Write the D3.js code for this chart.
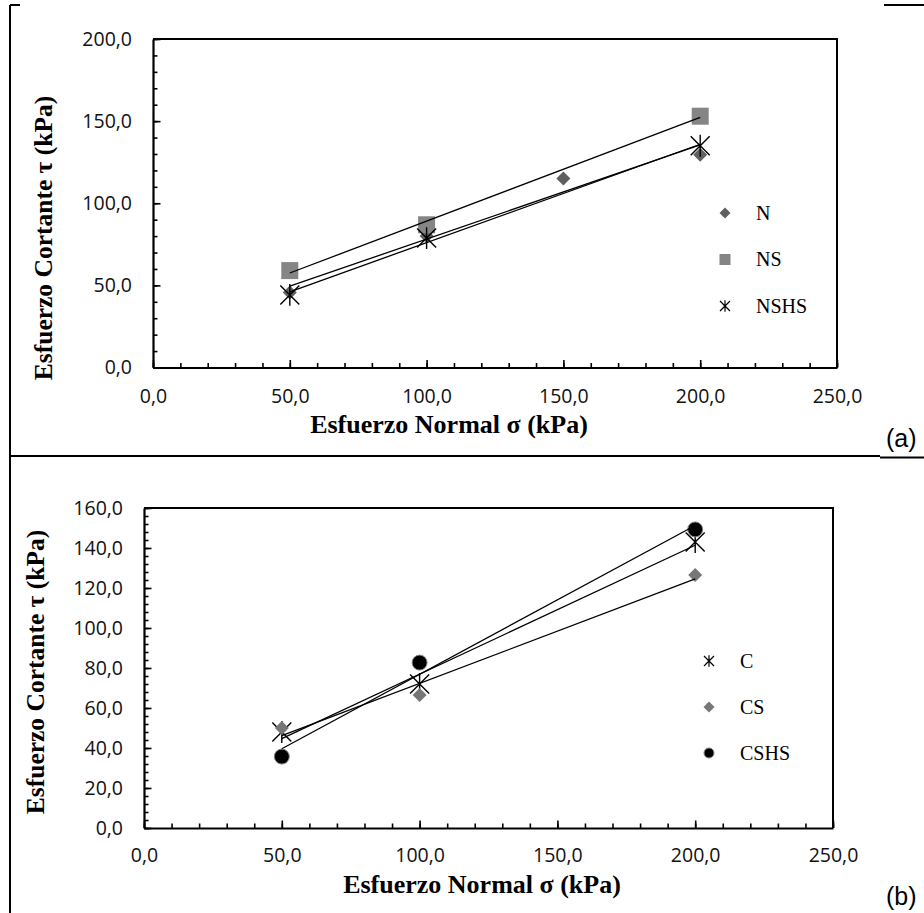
<!DOCTYPE html>
<html>
<head>
<meta charset="utf-8">
<script src="https://cdn.jsdelivr.net/npm/d3@7"></script>
<style>
body { margin: 0; background: #fff; }
</style>
</head>
<body>
<div class="viz"></div>
<script>
const w = 924;
const h = 913;

// axis ticks
const xTicks = [0, 50, 100, 150, 200, 250];
const yTicksA = [0, 50, 100, 150, 200];
const yTicksB = [0, 20, 40, 60, 80, 100, 120, 140, 160];

// panel (a)
const sigmaN = [50, 100, 150, 200];
const tauN = [45.6, 80, 115, 129.6];
const sigmaNS = [50, 100, 200];
const tauNS = [59, 86.9, 153];
const sigmaNSHS = [50, 100, 200];
const tauNSHS = [44.2, 78.8, 135];

// panel (b)
const sigmaC = [50, 100, 200];
const tauC = [48, 72, 143];
const tauCS = [50, 66.5, 126.5];
const tauCSHS = [35.7, 82.7, 149.3];

const fmt = d => d.toFixed(1).replace(".", ",");

const svg = d3.select(".viz")
    .append("svg")
    .attr("width", w)
    .attr("height", h);

svg.append("rect").attr("width", w).attr("height", h).attr("fill", "#fff");

// least squares trend line
function fit(xs, ys) {
    const mx = d3.mean(xs), my = d3.mean(ys);
    let sxy = 0, sxx = 0;
    xs.forEach((x, i) => { sxy += (x - mx) * (ys[i] - my); sxx += (x - mx) * (x - mx); });
    const b = sxy / sxx;
    const a = my - b * mx;
    const x0 = d3.min(xs), x1 = d3.max(xs);
    return [[x0, a + b * x0], [x1, a + b * x1]];
}

function markerPath(type, s) {
    if (type === "diamond") return `M0,${-s}L${s},0L0,${s}L${-s},0Z`;
    if (type === "square") return `M${-s},${-s}H${s}V${s}H${-s}Z`;
    if (type === "star") return `M${-s},${-s}L${s},${s}M${-s},${s}L${s},${-s}M0,${-s * 1.15}V${s * 1.15}`;
    return "";
}

function drawMarker(g, m, x, y, legend) {
    const st = {
        diamond: { fill: m.color, stroke: "none", s: legend ? 5.5 : 7 },
        square: { fill: m.color, stroke: "none", s: legend ? 5.5 : 8.5 },
        star: { fill: "none", stroke: "#000", s: legend ? 5 : 9.5 },
        circle: { fill: "#000", stroke: "#888", s: legend ? 5 : 7.5 }
    }[m.type];
    if (m.type === "circle") {
        g.append("circle").attr("cx", x).attr("cy", y).attr("r", st.s)
            .attr("fill", st.fill).attr("stroke", st.stroke).attr("stroke-width", 1);
    } else {
        g.append("path").attr("transform", `translate(${x},${y})`)
            .attr("d", markerPath(m.type, st.s))
            .attr("fill", st.fill).attr("stroke", st.stroke)
            .attr("stroke-width", legend ? 1.2 : 1.4);
    }
}

function panel(p) {
    const g = svg.append("g");
    const x = d3.scaleLinear().domain([0, 250]).range(p.xr);
    const y = d3.scaleLinear().domain(p.yd).range(p.yr);

    // plot frame (top and right)
    g.append("path")
        .attr("d", `M${p.xr[0]},${p.yr[1]}H${p.xr[1]}V${p.yr[0]}`)
        .attr("fill", "none").attr("stroke", "#000").attr("stroke-width", 2);

    // minor ticks
    g.append("g").attr("transform", `translate(0,${p.yr[0]})`)
        .call(d3.axisBottom(x).tickValues(d3.range(0, 251, 10)).tickSize(-4.5).tickFormat(""))
        .call(a => a.select(".domain").remove());
    g.append("g").attr("transform", `translate(${p.xr[0]},0)`)
        .call(d3.axisLeft(y).tickValues(d3.range(p.yd[0], p.yd[1] + 0.1, p.minor)).tickSize(-4.5).tickFormat(""))
        .call(a => a.select(".domain").remove());

    // major ticks and labels
    const xa = g.append("g").attr("transform", `translate(0,${p.yr[0]})`)
        .call(d3.axisBottom(x).tickValues(xTicks).tickSize(-7.5).tickSizeOuter(0).tickPadding(p.xPad).tickFormat(fmt));
    const ya = g.append("g").attr("transform", `translate(${p.xr[0]},0)`)
        .call(d3.axisLeft(y).tickValues(p.yTicks).tickSize(-7.5).tickSizeOuter(0).tickPadding(21).tickFormat(fmt));
    [xa, ya].forEach(a => {
        a.select(".domain").attr("stroke-width", 2.2);
        a.selectAll("text").style("font-family", "'Open Sans'").style("font-size", "19.5px").attr("fill", "#111");
    });
    g.selectAll(".tick line").attr("stroke-width", 1.6);

    // markers
    p.series.forEach(s => {
        s.xs.forEach((v, i) => drawMarker(g, s, x(v), y(s.ys[i]), false));
    });
    // trend lines
    const line = d3.line().x(d => x(d[0])).y(d => y(d[1]));
    p.series.forEach(s => {
        g.append("path").attr("d", line(fit(s.xs, s.ys)))
            .attr("fill", "none").attr("stroke", "#000").attr("stroke-width", 1.3);
    });

    // legend
    p.series.forEach((s, i) => {
        const ly = p.legend[1] + i * p.legendStep;
        drawMarker(g, s, p.legend[0], ly, true);
        g.append("text").attr("x", p.legend[0] + 31).attr("y", ly + 6.8)
            .style("font-family", "'Liberation Serif'").style("font-size", "20px")
            .text(s.name);
    });

    // axis titles
    g.append("text").attr("x", p.xTitle[0]).attr("y", p.xTitle[1])
        .attr("text-anchor", "middle")
        .style("font-family", "'Liberation Serif'").style("font-weight", "bold").style("font-size", "26px")
        .text("Esfuerzo Normal σ (kPa)");
    g.append("text").attr("transform", `translate(${p.yTitle[0]},${p.yTitle[1]}) rotate(-90)`)
        .attr("text-anchor", "middle").attr("dy", "0.35em")
        .style("font-family", "'Liberation Serif'").style("font-weight", "bold").style("font-size", "25.5px")
        .text("Esfuerzo Cortante τ (kPa)");

    // panel tag
    g.append("text").attr("x", p.tag[0]).attr("y", p.tag[1])
        .style("font-family", "'Liberation Sans'").style("font-size", "25px")
        .text(p.tagText);
}

panel({
    xr: [153, 837], yd: [0, 200], yr: [367.5, 39], minor: 10, yTicks: yTicksA, xPad: 22,
    series: [
        { name: "N", xs: sigmaN, ys: tauN, type: "diamond", color: "#606060" },
        { name: "NS", xs: sigmaNS, ys: tauNS, type: "square", color: "#858585" },
        { name: "NSHS", xs: sigmaNSHS, ys: tauNSHS, type: "star" }
    ],
    legend: [725, 213], legendStep: 46.5,
    xTitle: [449, 433], yTitle: [43, 238],
    tag: [886, 447], tagText: "(a)"
});

panel({
    xr: [144, 833], yd: [0, 160], yr: [828, 508], minor: 4, yTicks: yTicksB, xPad: 20,
    series: [
        { name: "C", xs: sigmaC, ys: tauC, type: "star" },
        { name: "CS", xs: sigmaC, ys: tauCS, type: "diamond", color: "#777777" },
        { name: "CSHS", xs: sigmaC, ys: tauCSHS, type: "circle" }
    ],
    legend: [709, 661], legendStep: 46,
    xTitle: [482, 893], yTitle: [35, 672],
    tag: [886, 905], tagText: "(b)"
});

// page frame lines
const frame = svg.append("g").attr("stroke", "#000").attr("stroke-width", 2).attr("fill", "none");
frame.append("path").attr("d", "M10,5V913");
frame.append("path").attr("d", "M10,5H20");
frame.append("path").attr("d", "M884,5H924");
frame.append("path").attr("d", "M10,456H880");
frame.append("path").attr("d", "M880,457.5H924");
</script>
</body>
</html>
